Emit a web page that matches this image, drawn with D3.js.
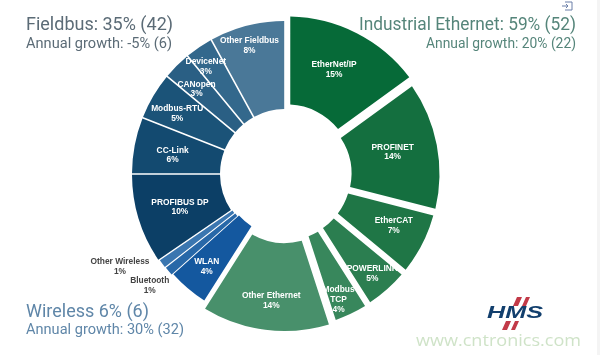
<!DOCTYPE html>
<html><head><meta charset="utf-8">
<script src="https://cdn.jsdelivr.net/npm/d3@7"></script>
<style>html,body{margin:0;padding:0;background:#fff}svg{display:block;filter:blur(0.35px)}</style></head>
<body><svg id="c" width="600" height="355"></svg>
<script>
const names=[["EtherNet/IP"],["PROFINET"],["EtherCAT"],["POWERLINK"],["Modbus","TCP"],["Other Ethernet"],["WLAN"],["Bluetooth"],["Other Wireless"],["PROFIBUS DP"],["CC-Link"],["Modbus-RTU"],["CANopen"],["DeviceNet"],["Other Fieldbus"]];
const printedShares=[15,14,7,5,4,14,4,1,1,10,6,5,3,3,8];
const drawnShares=[15,14,7,5,4,14,4.4,1.05,1,9.55,6,5,3,3,8];
const colours=["#066a38","#146f3f","#1f7646","#2b7e50","#38875c","#48906b","#14589f","#2868a8","#3a76b0","#0c3f66","#134a70","#1b5378","#2a5f84","#33688c","#4a7898"];
const pushes=[5,1.5,1,1,1.5,4,-3,-1.5,-1,0,0,0,0,0,0];
const pads=[6,6,6,6,6,6,1.6,1.2,1.2,1.6,1.6,1.6,1.6,1.6,1.6];
const labelRadii=[116,110,120,132,136,127,121,175,189,110,114,124,123,134,134];
const labelTurns=[-2,-1,-2,0,2,-1,0,0.5,7,0,-1,-1,-1,-2,-1];
const labelInk=["#fff","#fff","#fff","#fff","#fff","#fff","#fff","#444","#444","#fff","#fff","#fff","#fff","#fff","#fff"];
const titles=[
 {t:"Fieldbus: 35% (42)",s:"Annual growth: -5% (6)",c:"#5b6b76",x:26},
 {t:"Industrial Ethernet: 59% (52)",s:"Annual growth: 20% (22)",c:"#55857a",x:359},
 {t:"Wireless 6% (6)",s:"Annual growth: 30% (32)",c:"#5f86a8",x:26}];
const titleY=[[30,48],[30,48],[317,334]];
const titleW=[[147,146],[217,150],[123,158]];
const subX=[26,426,26];

const svg=d3.select("#c");
const cx=285,cy=174,R=153,r=65;
const pie=d3.pie().value(d=>d).sort(null)(drawnShares);
const F="'Liberation Sans',Arial,sans-serif", T="'Roboto','Noto Sans',sans-serif";
svg.append("rect").attr("x",597).attr("width",3).attr("height",355).attr("fill","#f4f4f4");
const g=svg.append("g").attr("transform",`translate(${cx},${cy})`);
const mid=d=>(d.startAngle+d.endAngle)/2;
g.selectAll("path").data(pie).join("path")
 .attr("d",(d,i)=>d3.arc().innerRadius(r).outerRadius(R).padRadius(100).padAngle(pads[i]/100)(d))
 .attr("fill",(d,i)=>colours[i])
 .attr("transform",(d,i)=>`translate(${Math.sin(mid(d))*pushes[i]},${-Math.cos(mid(d))*pushes[i]})`);
pie.forEach((d,i)=>{
  const ang=mid(d)+labelTurns[i]*Math.PI/180;
  const x=Math.sin(ang)*labelRadii[i], y=-Math.cos(ang)*labelRadii[i];
  const lines=names[i].concat([printedShares[i]+"%"]);
  const t=g.append("text").attr("text-anchor","middle").attr("font-family",F).attr("font-weight","bold")
   .attr("font-size",8.4).attr("fill",labelInk[i]);
  lines.forEach((l,k)=>t.append("tspan").attr("x",x).attr("y",y+(k-(lines.length-1)/2)*9.6+3).text(l));
});
titles.forEach((o,i)=>{
  svg.append("text").attr("x",o.x).attr("y",titleY[i][0]).attr("font-family",T)
    .attr("font-size",18.5).attr("fill",o.c).attr("textLength",titleW[i][0]).attr("lengthAdjust","spacingAndGlyphs").text(o.t);
  svg.append("text").attr("x",subX[i]).attr("y",titleY[i][1]).attr("font-family",T)
    .attr("font-size",14).attr("fill",o.c).attr("textLength",titleW[i][1]).attr("lengthAdjust","spacingAndGlyphs").text(o.s);
});
svg.append("path").attr("d","M565 2h7v8h-7M562 6h6M566 4l2 2-2 2").attr("fill","none").attr("stroke","#6b7fa8").attr("stroke-width",1);
svg.append("text").attr("x",515).attr("y",318).attr("text-anchor","middle").attr("font-family",F)
  .attr("font-weight","bold").attr("font-style","italic").attr("font-size",16).attr("fill","#123f6d")
  .attr("textLength",56).attr("lengthAdjust","spacingAndGlyphs").text("HMS");
svg.append("path").attr("d","M517 297h5l-4 9h-5zM526 297h4l-4 9h-4zM506 321h5l-4 9h-5zM515 321h4l-4 9h-4z").attr("fill","#c23a48");
svg.append("text").attr("x",416).attr("y",346).attr("font-family","'Open Sans',sans-serif").attr("font-size",17)
  .attr("fill","#cfe3c8").attr("textLength",165).attr("lengthAdjust","spacingAndGlyphs").text("www.cntronics.com");
</script></body></html>
